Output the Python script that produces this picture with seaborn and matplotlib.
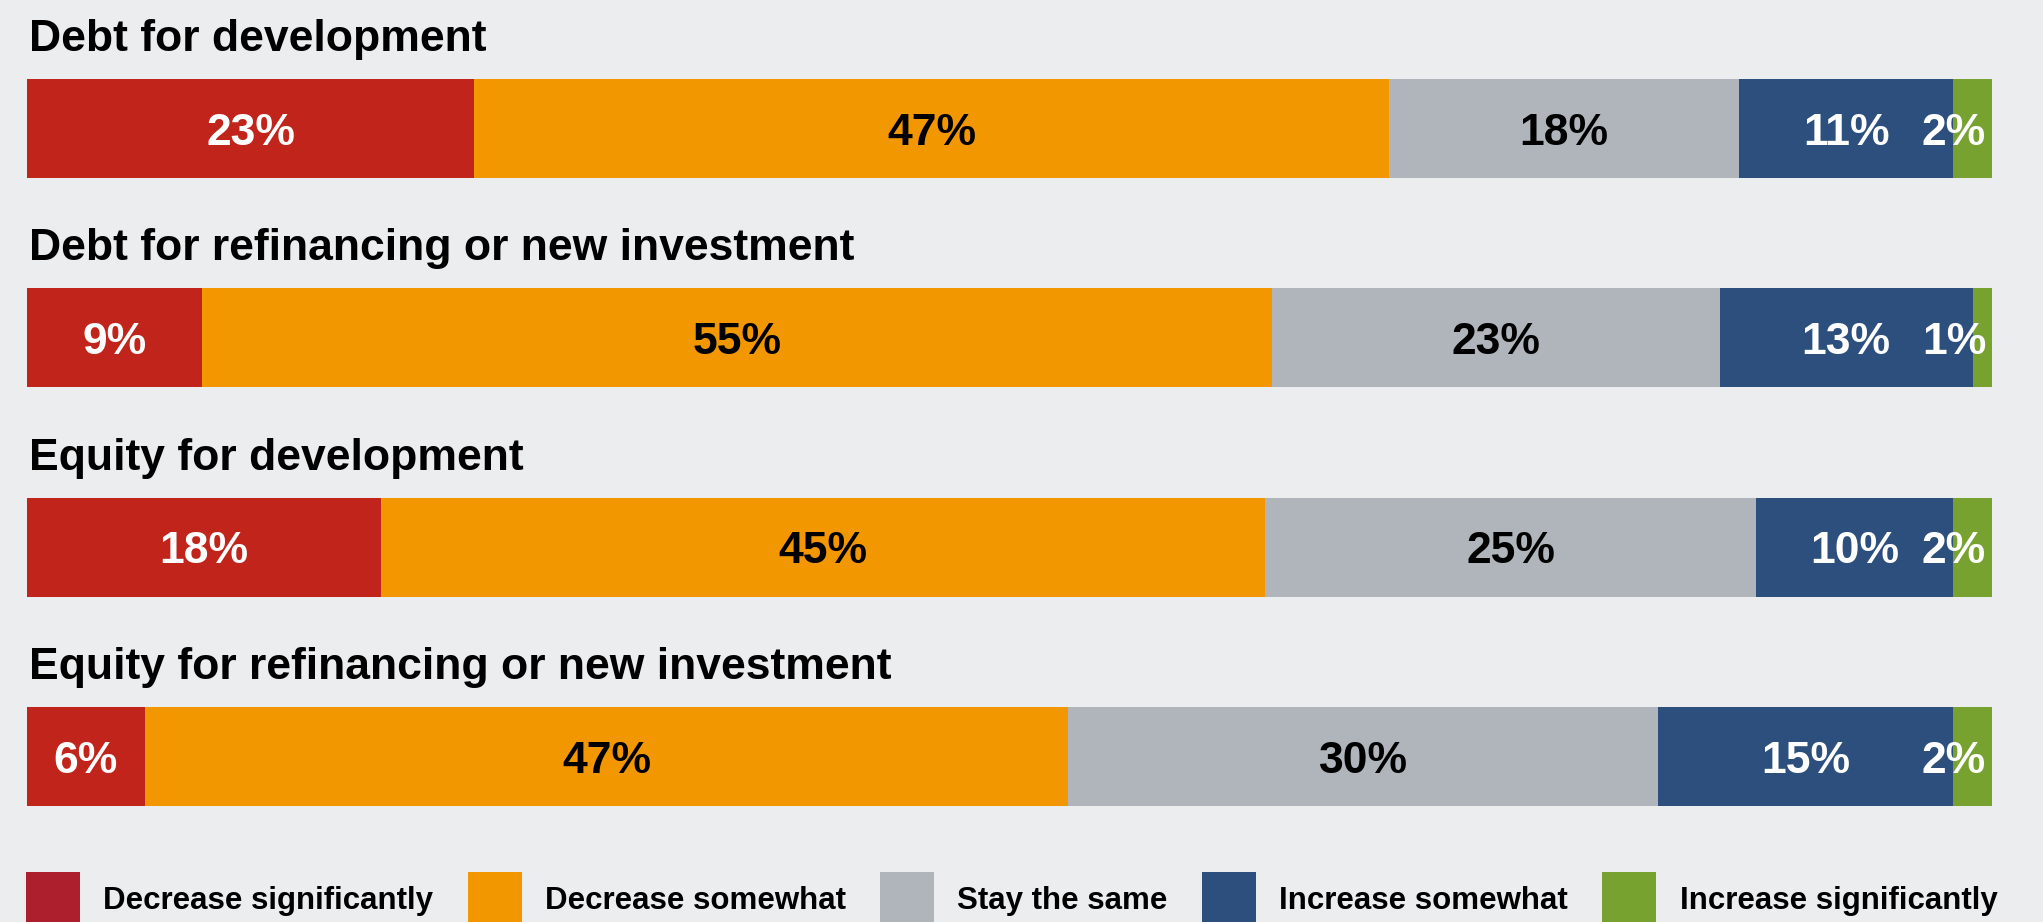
import matplotlib
matplotlib.use("Agg")
import matplotlib.pyplot as plt
import matplotlib.patches as mpatches
from matplotlib.transforms import offset_copy
import pandas as pd
import seaborn as sns

categories = [
    "Debt for development",
    "Debt for refinancing or new investment",
    "Equity for development",
    "Equity for refinancing or new investment",
]
series = [
    "Decrease significantly",
    "Decrease somewhat",
    "Stay the same",
    "Increase somewhat",
    "Increase significantly",
]
decrease_sig = [23, 9, 18, 6]
decrease_some = [47, 55, 45, 47]
stay_same = [18, 23, 25, 30]
increase_some = [11, 13, 10, 15]
increase_sig = [2, 1, 2, 2]

bar_colors = ["#C1241A", "#F39700", "#AFB5BB", "#2C4F7D", "#78A22F"]
legend_colors = ["#AD1F2D", "#F39700", "#AFB5BB", "#2C4F7D", "#78A22F"]
label_colors = ["white", "black", "black", "white", "white"]
BG = "#ECEDEF"

W, H, DPI = 2043, 922, 100
# layout in pixels
bar_left, bar_right = 27, 1992
first_center, row_pitch, bar_px = 128.5, 209.3, 99

plt.rcParams["font.family"] = ["Liberation Sans", "DejaVu Sans"]

df = pd.DataFrame(
    dict(zip(series, [decrease_sig, decrease_some, stay_same, increase_some, increase_sig])),
    index=categories,
)
# rows were rounded, so scale each row to fill the bar
shares = df.div(df.sum(axis=1), axis=0) * 100
cum = shares.cumsum(axis=1)

fig = plt.figure(figsize=(W / DPI, H / DPI), dpi=DPI, facecolor=BG)
ax = fig.add_axes([bar_left / W, 0, (bar_right - bar_left) / W, 1])
ax.set_facecolor(BG)

bar_w = bar_px / row_pitch
# stacked bars: draw cumulative totals from the longest to the shortest
for k in reversed(range(len(series))):
    sns.barplot(
        x=cum[series[k]].values,
        y=categories,
        color=bar_colors[k],
        saturation=1,
        width=bar_w,
        orient="h",
        errorbar=None,
        linewidth=0,
        ax=ax,
    )

ax.set_xlim(0, 100)
ax.set_ylim((H - first_center) / row_pitch, -first_center / row_pitch)
ax.axis("off")

label_tr = offset_copy(ax.transData, fig=fig, x=0, y=-16.2, units="dots")
last_tr = offset_copy(ax.transData, fig=fig, x=-6, y=-16.2, units="dots")
title_tr = offset_copy(ax.transData, fig=fig, x=2, y=28, units="dots")

for i, cat in enumerate(categories):
    ax.text(0, i - bar_w / 2, cat, transform=title_tr, ha="left", va="baseline",
            fontsize=32, fontweight="bold", color="black")
    for k, s in enumerate(series):
        txt = f"{df.loc[cat, s]}%"
        if k == len(series) - 1:
            ax.text(100, i, txt, transform=last_tr, ha="right", va="baseline",
                    fontsize=32, fontweight="bold", color=label_colors[k])
        else:
            xc = cum.loc[cat, s] - shares.loc[cat, s] / 2
            ax.text(xc, i, txt, transform=label_tr, ha="center", va="baseline",
                    fontsize=32, fontweight="bold", color=label_colors[k])

handles = [mpatches.Patch(facecolor=c, edgecolor="none", linewidth=0) for c in legend_colors]
fig.legend(
    handles, series,
    loc="upper left",
    bbox_to_anchor=(26 / W, 1 - 872 / H),
    ncol=5,
    frameon=False,
    borderpad=0,
    borderaxespad=0,
    handlelength=1.73,
    handleheight=2.28,
    handletextpad=0.74,
    columnspacing=1.1,
    prop=dict(family="Liberation Sans", weight="bold", size=22.5),
)

fig.savefig("out.png", dpi=DPI, facecolor=BG)
